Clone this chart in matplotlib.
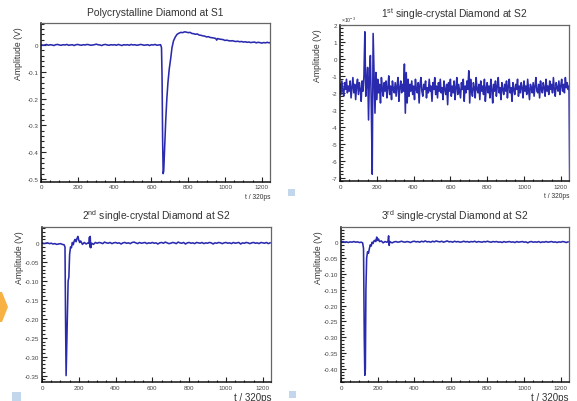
import numpy as np
import matplotlib
matplotlib.use('Agg')
import matplotlib.pyplot as plt
from matplotlib.patches import Polygon, Rectangle
from matplotlib.ticker import MultipleLocator, FixedLocator

plt.rcParams['font.family'] = ['Liberation Sans', 'DejaVu Sans']
plt.rcParams['mathtext.fontset'] = 'custom'
plt.rcParams['mathtext.rm'] = 'Liberation Sans'

# --- data ---
titles = ['Polycrystalline Diamond at S1',
          r'1$^{\mathrm{st}}$ single-crystal Diamond at S2',
          r'2$^{\mathrm{nd}}$ single-crystal Diamond at S2',
          r'3$^{\mathrm{rd}}$ single-crystal Diamond at S2']

# polycrystalline, S1
t1_base = list(range(0, 660, 10))
v1_base = [0.001, -0.001, 0.000, 0.002, -0.001, 0.001, 0.000, -0.002, 0.001, 0.002,
           0.000, -0.001, 0.001, 0.000, 0.002, -0.001, 0.000, 0.001, -0.002, 0.001,
           0.002, 0.000, -0.001, 0.001, 0.000, 0.002, 0.001, -0.001, 0.000, 0.001,
           0.003, 0.001, 0.000, -0.002, 0.001, 0.002, 0.000, -0.001, 0.001, 0.000,
           0.001, -0.001, 0.002, 0.000, -0.002, 0.001, 0.000, 0.001, -0.001, 0.002,
           0.000, 0.001, -0.001, 0.000, 0.002, 0.001, -0.001, 0.000, 0.001, -0.002,
           0.001, 0.000, 0.002, -0.001, 0.000, 0.001]
t1_pulse = [655, 658, 661, 664, 667, 670, 673, 678, 684, 690,
            697, 705, 712, 720, 730, 740, 750, 760, 770, 780,
            790, 800, 810, 820, 830, 840, 850, 860, 870, 880,
            890, 900, 910, 920, 930, 940, 950, 955, 960, 970,
            980, 990, 1000, 1010, 1020, 1030, 1040, 1050, 1060, 1070,
            1080, 1090, 1100, 1110, 1120, 1130, 1140, 1150, 1160, 1170,
            1180, 1190, 1200, 1210, 1220, 1230, 1240, 1245]
v1_pulse = [-0.01, -0.12, -0.35, -0.48, -0.47, -0.42, -0.36, -0.28, -0.20, -0.14,
            -0.09, -0.05, -0.01, 0.015, 0.030, 0.040, 0.044, 0.047, 0.046, 0.049,
            0.048, 0.046, 0.047, 0.043, 0.042, 0.040, 0.041, 0.037, 0.036, 0.034,
            0.033, 0.030, 0.031, 0.028, 0.027, 0.026, 0.024, 0.018, 0.024, 0.022,
            0.021, 0.020, 0.017, 0.018, 0.016, 0.015, 0.016, 0.014, 0.013, 0.014,
            0.012, 0.013, 0.011, 0.012, 0.010, 0.011, 0.009, 0.010, 0.011, 0.008,
            0.010, 0.009, 0.007, 0.009, 0.008, 0.010, 0.008, 0.009]

# 1st single crystal, S2 (values in 1e-3 V, one sample every 5 units)
t2 = list(range(0, 1250, 5)) + [1249]
v2 = [-1.5, -2.1, -1.3, -1.9, -2.2, -1.4, -1.8, -1.2, -2.0, -1.6,
      -1.9, -1.3, -2.3, -1.7, -1.1, -2.0, -1.5, -2.4, -1.6, -1.2,
      -2.1, -1.4, -1.8, -2.5, -1.3, -1.9, -1.0, 1.6, -2.2, -1.4,
      -0.5, -3.6, -0.9, 0.2, -2.8, -6.8, 1.5, -1.0, -3.2, -0.8,
      -2.4, -1.2, -2.0, -1.5, -2.6, -1.1, -1.8, -2.2, -1.4, -1.9,
      -1.3, -2.3, -1.7, -1.0, -2.1, -1.6, -2.4, -1.3, -1.8, -2.0,
      -1.4, -2.2, -1.6, -1.1, -2.5, -1.7, -1.3, -2.0, -1.5, -1.9,
      -0.3, -3.2, -0.8, -2.6, -1.2, -2.2, -1.5, -1.9, -1.3, -2.1,
      -1.6, -2.4, -1.2, -1.8, -2.0, -1.4, -2.6, -1.5, -1.1, -1.9,
      -2.2, -1.5, -1.8, -1.3, -2.3, -1.7, -2.0, -1.2, -1.9, -1.6,
      -2.5, -1.4, -1.8, -1.1, -2.1, -1.6, -2.3, -1.4, -1.9, -1.2,
      -2.0, -1.7, -2.4, -1.3, -1.8, -2.1, -1.5, -2.7, -1.4, -1.9,
      -1.2, -2.2, -1.6, -2.0, -1.3, -2.4, -1.7, -1.1, -2.1, -1.5,
      -1.9, -2.3, -1.4, -1.8, -1.2, -2.5, -1.6, -2.0, -1.3, -1.8,
      -0.7, -2.6, -1.2, -1.9, -2.2, -1.4, -1.7, -2.3, -1.1, -1.8,
      -2.0, -1.5, -2.4, -1.3, -1.9, -1.6, -2.1, -1.2, -2.5, -1.7,
      -1.4, -2.0, -1.6, -2.3, -1.2, -1.8, -2.6, -1.5, -1.9, -1.3,
      -2.2, -1.6, -1.1, -2.0, -1.7, -2.4, -1.4, -1.8, -2.1, -1.5,
      -1.9, -1.3, -2.3, -1.6, -1.2, -2.0, -1.7, -2.5, -1.4, -1.8,
      -2.1, -1.5, -1.8, -1.2, -2.2, -1.6, -2.0, -1.4, -1.7, -2.3,
      -1.3, -1.9, -1.6, -2.1, -1.2, -1.8, -2.4, -1.5, -1.7, -2.0,
      -1.4, -2.2, -1.6, -1.1, -1.9, -2.0, -1.5, -2.3, -1.3, -1.8,
      -2.0, -1.4, -1.7, -2.2, -1.2, -1.9, -1.6, -2.1, -1.3, -1.8,
      -1.5, -2.0, -1.1, -1.8, -2.2, -1.4, -1.7, -1.9, -1.3, -2.1,
      -1.6, -1.2, -1.9, -1.5, -2.0, -1.1, -1.7, -1.4, -1.8, -1.6,
      -7.5]

# 2nd single crystal, S2
t3_pulse = [0, 10, 20, 30, 40, 50, 60, 70, 80, 90,
            100, 110, 120, 125, 128, 131, 134, 138, 142, 146,
            150, 155, 160, 165, 170, 175, 180, 185, 190, 195,
            200, 205, 210, 220, 230, 240, 250, 256, 258, 260,
            262, 265, 270, 280, 290]
v3_pulse = [0.001, -0.001, 0.000, 0.001, -0.001, 0.000, -0.002, -0.001, -0.003, -0.002,
            -0.001, -0.003, -0.004, -0.010, -0.200, -0.350, -0.280, -0.200, -0.100, -0.090,
            -0.030, -0.010, -0.012, 0.002, -0.004, 0.006, 0.010, 0.004, 0.012, 0.018,
            0.008, 0.002, 0.006, -0.003, 0.002, -0.002, 0.001, 0.000, 0.016, -0.010,
            0.018, -0.012, 0.000, -0.003, 0.002]
t3_tail = list(range(300, 1250, 10))
v3_tail = [0.000, 0.002, 0.001, -0.001, 0.003, 0.001, 0.000, 0.002, -0.001, 0.001,
           0.002, 0.000, 0.001, -0.002, 0.001, 0.002, 0.000, 0.001, -0.001, 0.002,
           0.003, 0.001, -0.001, 0.002, 0.000, 0.001, 0.002, -0.001, 0.001, 0.000,
           0.002, 0.000, 0.001, -0.002, 0.001, 0.002, 0.000, 0.003, 0.001, -0.001,
           0.000, 0.002, 0.001, -0.001, 0.003, 0.001, 0.000, 0.002, -0.002, 0.001,
           0.002, 0.000, 0.001, -0.001, 0.002, 0.001, 0.000, 0.002, -0.001, 0.001,
           0.000, 0.002, 0.001, -0.002, 0.001, 0.000, 0.002, 0.001, -0.001, 0.001,
           0.002, 0.000, 0.001, -0.001, 0.002, 0.000, 0.001, 0.002, -0.002, 0.001,
           0.000, 0.002, 0.001, -0.001, 0.001, 0.002, 0.000, 0.001, -0.001, 0.002,
           0.001, 0.000, 0.002, -0.001, 0.001]

# 3rd single crystal, S2
t4_pulse = [0, 10, 20, 30, 40, 50, 60, 70, 80, 90,
            100, 110, 118, 123, 127, 130, 133, 136, 140, 145,
            150, 155, 160, 165, 170, 175, 180, 185, 190, 195,
            200, 205, 210, 220, 230, 240, 250, 256, 260, 263,
            266, 270, 280, 290]
v4_pulse = [0.000, 0.002, 0.000, 0.001, -0.001, 0.001, 0.000, 0.002, 0.000, 0.001,
            -0.001, 0.000, -0.002, -0.020, -0.300, -0.420, -0.400, -0.150, -0.050, -0.030,
            -0.035, -0.020, -0.008, -0.012, 0.000, -0.004, 0.004, 0.006, 0.002, 0.016,
            0.006, 0.010, 0.002, 0.004, -0.002, 0.002, 0.000, 0.001, 0.020, -0.010,
            0.002, 0.000, -0.002, 0.001]
t4_tail = list(range(300, 1250, 10))
v4_tail = [0.002, 0.000, 0.001, 0.003, 0.001, 0.000, 0.002, 0.001, -0.001, 0.002,
           0.003, 0.001, 0.002, 0.000, 0.003, 0.001, 0.004, 0.001, 0.002, 0.000,
           0.003, 0.001, 0.004, 0.002, 0.001, 0.003, 0.000, 0.002, 0.004, 0.001,
           0.002, 0.000, 0.003, 0.001, 0.002, 0.000, 0.001, 0.003, 0.001, 0.002,
           0.000, 0.002, 0.001, 0.003, 0.000, 0.002, 0.001, 0.000, 0.002, 0.001,
           0.003, 0.001, 0.000, 0.002, 0.001, 0.002, 0.000, 0.001, -0.001, 0.002,
           0.000, 0.001, 0.002, 0.000, 0.001, -0.001, 0.002, 0.000, 0.001, 0.002,
           0.000, 0.001, -0.002, 0.001, 0.002, 0.000, 0.001, 0.000, 0.002, -0.001,
           0.001, 0.000, 0.002, 0.000, 0.001, 0.002, 0.000, 0.001, -0.001, 0.001,
           0.000, 0.002, 0.001, -0.001, 0.001]

series = [(t1_base + t1_pulse, v1_base + v1_pulse),
          (t2, v2),
          (t3_pulse + t3_tail, v3_pulse + v3_tail),
          (t4_pulse + t4_tail, v4_pulse + v4_tail)]
ylims = [(-0.51, 0.082), (-7.2, 2.0), (-0.367, 0.043), (-0.441, 0.048)]
yticks = [[0, -0.1, -0.2, -0.3, -0.4, -0.5],
          [2, 1, 0, -1, -2, -3, -4, -5, -6, -7],
          [0, -0.05, -0.10, -0.15, -0.20, -0.25, -0.30, -0.35],
          [0, -0.05, -0.10, -0.15, -0.20, -0.25, -0.30, -0.35, -0.40]]
ylabels = [['0', '-0.1', '-0.2', '-0.3', '-0.4', '-0.5'],
           ['2', '1', '0', '-1', '-2', '-3', '-4', '-5', '-6', '-7'],
           ['0', '-0.05', '-0.10', '-0.15', '-0.20', '-0.25', '-0.30', '-0.35'],
           ['0', '-0.05', '-0.10', '-0.15', '-0.20', '-0.25', '-0.30', '-0.35', '-0.40']]
yminor = [0.02, 0.2, 0.01, 0.01]

# axes boxes in figure fraction [left, bottom, width, height]
boxes = [[0.0711, 0.5455, 0.3969, 0.3948],
         [0.5893, 0.5473, 0.3969, 0.3880],
         [0.0728, 0.0473, 0.3969, 0.3856],
         [0.5910, 0.0473, 0.3951, 0.3856]]

W, H = 577, 402
fig = plt.figure(figsize=(W / 100, H / 100), dpi=100)
line_color = '#2a2aae'

for i in range(4):
    ax = fig.add_axes(boxes[i])
    t, v = series[i]
    ax.plot(t, v, color=line_color, lw=1.15, solid_joinstyle='round')
    ax.set_xlim(0, 1245)
    ax.set_ylim(*ylims[i])
    ax.xaxis.set_major_locator(MultipleLocator(200))
    ax.xaxis.set_minor_locator(MultipleLocator(50))
    ax.yaxis.set_major_locator(FixedLocator(yticks[i]))
    ax.set_yticklabels(ylabels[i])
    ax.yaxis.set_minor_locator(MultipleLocator(yminor[i]))
    ax.tick_params(which='both', direction='in', labelsize=4.5, top=False, right=False,
                   width=0.8, color='#222222', labelcolor='#444444')
    ax.tick_params(which='major', length=3.5, pad=2)
    ax.tick_params(which='minor', length=1.8)
    for s in ['left', 'bottom']:
        ax.spines[s].set_color('#111111')
        ax.spines[s].set_linewidth(1.1)
    for s in ['top', 'right']:
        ax.spines[s].set_color('#666666')
        ax.spines[s].set_linewidth(0.9)
    ax.set_title(titles[i], fontsize=7.4, color='#333333', pad=6)
    ax.text(-0.10, 0.98, 'Amplitude (V)', rotation=90, ha='center', va='top',
            fontsize=6.2, color='#333333', transform=ax.transAxes)
    if i < 2:
        ax.text(1.0, -0.07, 't / 320ps', ha='right', va='top', fontsize=4.8,
                color='#333333', transform=ax.transAxes)
    else:
        ax.text(1.0, -0.065, 't / 320ps', ha='right', va='top', fontsize=7,
                color='#333333', transform=ax.transAxes)

# x10^-3 multiplier on the 1st single-crystal panel
fig.text(349 / W, 1 - 20 / H, r'$\times$10$^{-3}$', fontsize=3.8, color='#333333',
         ha='center', va='center')

# slide decorations
for (x0, y0, s) in [(288, 190, 6.5), (12, 393, 9), (289, 392, 7)]:
    fig.patches.append(Rectangle((x0 / W, 1 - (y0 + s) / H), s / W, s / H,
                                 transform=fig.transFigure, color='#c3d7ec', lw=0))
fig.patches.append(Polygon([(0, 1 - 293 / H), (2 / W, 1 - 293 / H), (8 / W, 1 - 308 / H),
                            (2 / W, 1 - 323 / H), (0, 1 - 323 / H)], closed=True,
                           transform=fig.transFigure, color='#f7b243', lw=0))

fig.savefig('out.png', dpi=100)
